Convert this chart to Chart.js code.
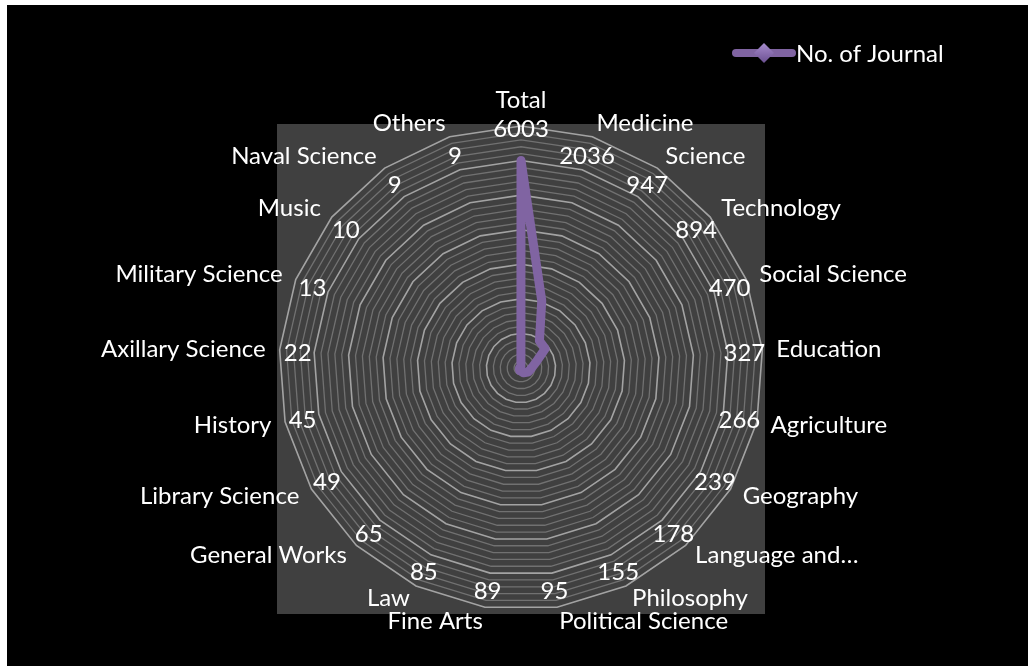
<!DOCTYPE html>
<html>
<head>
<meta charset="utf-8">
<title>No. of Journal</title>
<script src="https://cdn.jsdelivr.net/npm/chart.js@4.4.1/dist/chart.umd.min.js"></script>
<style>
  html, body { margin: 0; padding: 0; background: #ffffff; }
  #frame { position: absolute; left: 7px; top: 5px; width: 1021px; height: 661px; background: #000000; }
  canvas { display: block; }
</style>
</head>
<body>
<div id="frame"><canvas id="chart" width="1021" height="661"></canvas></div>
<script>
// Subject categories, clockwise from the top
const categories = [
  'Total', 'Medicine', 'Science', 'Technology', 'Social Science', 'Education',
  'Agriculture', 'Geography', 'Language and\u2026', 'Philosophy', 'Political Science',
  'Fine Arts', 'Law', 'General Works', 'Library Science', 'History',
  'Axillary Science', 'Military Science', 'Music', 'Naval Science', 'Others'
];

// Number of journals per category
const journalCounts = [
  6003, 2036, 947, 894, 470, 327,
  266, 239, 178, 155, 95,
  89, 85, 65, 49, 45,
  22, 13, 10, 9, 9
];

const seriesName = 'No. of Journal';

// Radial axis range and ring spacing
const axisMax = 7000;
const minorStep = 200;
const majorStep = 1000;

const FONT = '24px Lato, "Open Sans", sans-serif';
const TEXT = '#ffffff';
const PURPLE = '#8064A2';

// Grey square behind the radar
const plotBackground = {
  id: 'plotBackground',
  beforeDraw(chart) {
    const r = chart.scales.r;
    const half = r.drawingArea + 2;
    const ctx = chart.ctx;
    ctx.save();
    ctx.fillStyle = '#404040';
    ctx.fillRect(r.xCenter - half, r.yCenter - half, half * 2, half * 2 + 2);
    ctx.restore();
  }
};

// Category names outside the outer ring and counts just inside it
const radarLabels = {
  id: 'radarLabels',
  afterDraw(chart) {
    const r = chart.scales.r;
    const ctx = chart.ctx;
    const n = categories.length;
    ctx.save();
    ctx.font = FONT;
    ctx.fillStyle = TEXT;
    for (let i = 0; i < n; i++) {
      const deg = Math.round(i * 360 / n * 1000) / 1000;
      const axial = (deg === 0 || deg === 180);
      // category name
      const p = r.getPointPosition(i, r.drawingArea + 14);
      if (axial) {
        ctx.textAlign = 'center';
        ctx.textBaseline = deg === 0 ? 'bottom' : 'top';
      } else {
        ctx.textAlign = deg < 180 ? 'left' : 'right';
        ctx.textBaseline = 'middle';
      }
      ctx.fillText(categories[i], p.x, p.y);
      // count
      ctx.textAlign = 'center';
      if (axial) {
        const q = r.getPointPosition(i, r.drawingArea + 9);
        ctx.textBaseline = deg === 0 ? 'top' : 'bottom';
        ctx.fillText(String(journalCounts[i]), q.x, q.y);
      } else {
        const q = r.getPointPosition(i, r.drawingArea - 18);
        ctx.textBaseline = 'middle';
        ctx.fillText(String(journalCounts[i]), q.x, q.y + 2);
      }
    }
    ctx.restore();
  }
};

// Series key: thick line with a diamond marker
const seriesKey = {
  id: 'seriesKey',
  afterDraw(chart) {
    const ctx = chart.ctx;
    const y = 48;
    const x0 = 729, x1 = 785;
    const mx = (x0 + x1) / 2;
    ctx.save();
    ctx.strokeStyle = PURPLE;
    ctx.lineWidth = 8;
    ctx.lineCap = 'round';
    ctx.beginPath();
    ctx.moveTo(x0, y);
    ctx.lineTo(x1, y);
    ctx.stroke();
    const g = ctx.createLinearGradient(0, y - 10, 0, y + 10);
    g.addColorStop(0, '#a58ccb');
    g.addColorStop(0.5, '#8a6eb0');
    g.addColorStop(1, '#6a5090');
    ctx.fillStyle = g;
    ctx.beginPath();
    ctx.moveTo(mx, y - 10);
    ctx.lineTo(mx + 10, y);
    ctx.lineTo(mx, y + 10);
    ctx.lineTo(mx - 10, y);
    ctx.closePath();
    ctx.fill();
    ctx.font = FONT;
    ctx.fillStyle = TEXT;
    ctx.textAlign = 'left';
    ctx.textBaseline = 'middle';
    ctx.fillText(chart.data.datasets[0].label, x1 + 4, y + 1);
    ctx.restore();
  }
};

new Chart(document.getElementById('chart'), {
  type: 'radar',
  data: {
    labels: categories,
    datasets: [{
      label: seriesName,
      data: journalCounts,
      borderColor: PURPLE,
      backgroundColor: 'transparent',
      fill: false,
      borderWidth: 9,
      borderJoinStyle: 'round',
      borderCapStyle: 'round',
      pointRadius: 0,
      pointHoverRadius: 0
    }]
  },
  options: {
    responsive: false,
    animation: false,
    devicePixelRatio: 1,
    layout: { padding: { left: 272, top: 121, right: 265, bottom: 56 } },
    plugins: {
      legend: { display: false },
      tooltip: { enabled: false }
    },
    scales: {
      r: {
        min: 0,
        max: axisMax,
        startAngle: 0,
        ticks: { display: false, stepSize: minorStep },
        pointLabels: { display: false },
        angleLines: { display: false },
        grid: {
          circular: false,
          color: ctx => (ctx.tick && ctx.tick.value % majorStep === 0) ? '#a3a3a3' : '#717171',
          lineWidth: ctx => (ctx.tick && ctx.tick.value % majorStep === 0) ? 1.6 : 1.3
        }
      }
    }
  },
  plugins: [plotBackground, radarLabels, seriesKey]
});
</script>
</body>
</html>
